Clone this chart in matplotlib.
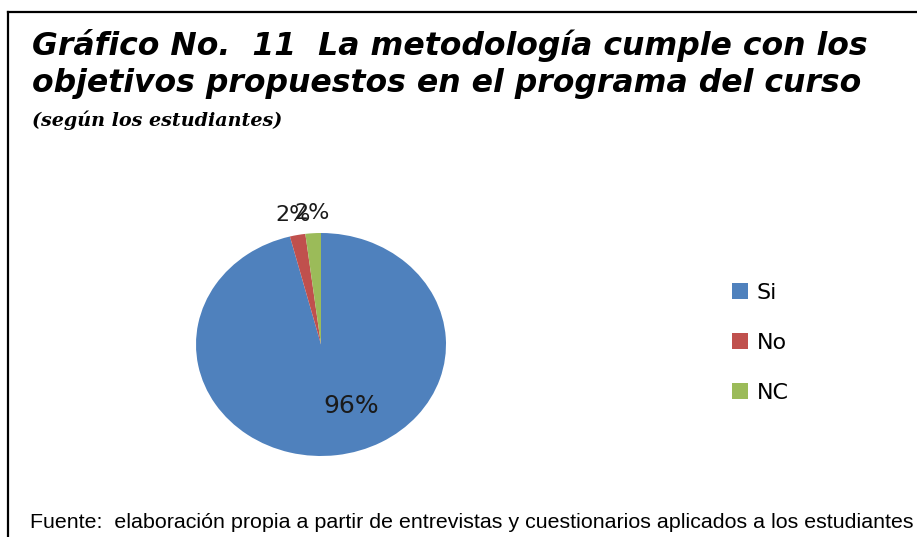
import matplotlib
matplotlib.use("Agg")
import matplotlib.pyplot as plt
from matplotlib.lines import Line2D

categories = ["Si", "No", "NC"]
values = [96, 2, 2]
colors = ["#4F81BD", "#C0504D", "#9BBB59"]

title_lines = ["Gráfico No.  11  La metodología cumple con los",
               "objetivos propuestos en el programa del curso"]
subtitle = "(según los estudiantes)"
source = "Fuente:  elaboración propia a partir de entrevistas y cuestionarios aplicados a los estudiantes"

W, H = 917, 537
fig = plt.figure(figsize=(W / 100, H / 100), dpi=100)

# frame (left and top only, like the cropped original)
fig.add_artist(Line2D([8 / W, 8 / W], [0, 1 - 12 / H], color="black", lw=1.6))
fig.add_artist(Line2D([8 / W, 1], [1 - 12 / H, 1 - 12 / H], color="black", lw=1.6))

for line, base in zip(title_lines, [55, 92]):
    fig.text(32 / W, 1 - base / H, line, fontsize=22.7, fontweight="bold", fontstyle="italic",
             family="DejaVu Sans", va="baseline")
fig.text(32 / W, 1 - 126 / H, subtitle, fontsize=13.8, fontweight="bold", fontstyle="italic",
         family="DejaVu Serif", va="baseline")
fig.text(30 / W, 1 - 528 / H, source, fontsize=15.4, family="Liberation Sans", va="baseline")

# elliptical pie: axes box is wider than tall and aspect left auto
ax = fig.add_axes([196 / W, 1 - 456 / H, 250 / W, 223 / H])
wedges, texts, autotexts = ax.pie(values, colors=colors, startangle=90, counterclock=False,
                                  autopct=lambda p: f"{p:.0f}%", pctdistance=1.18,
                                  textprops=dict(fontsize=16, family="DejaVu Sans", color="#1a1a1a"),
                                  wedgeprops=dict(linewidth=0))
ax.set_aspect("auto")
ax.set_xlim(-1, 1)
ax.set_ylim(-1, 1)
# the big slice label sits inside the slice
autotexts[0].set_position((0.24, -0.55))
autotexts[0].set_fontsize(18)

handles = [Line2D([], [], marker="s", ls="", markersize=11, markerfacecolor=c, markeredgewidth=0)
           for c in colors]
fig.legend(handles, categories, loc="center left", bbox_to_anchor=(707 / W, 1 - 343 / H),
           frameon=False, labelspacing=1.36, handletextpad=0.15, handlelength=1.2,
           prop=dict(family="DejaVu Sans", size=16))

fig.savefig("out.png", dpi=100)
